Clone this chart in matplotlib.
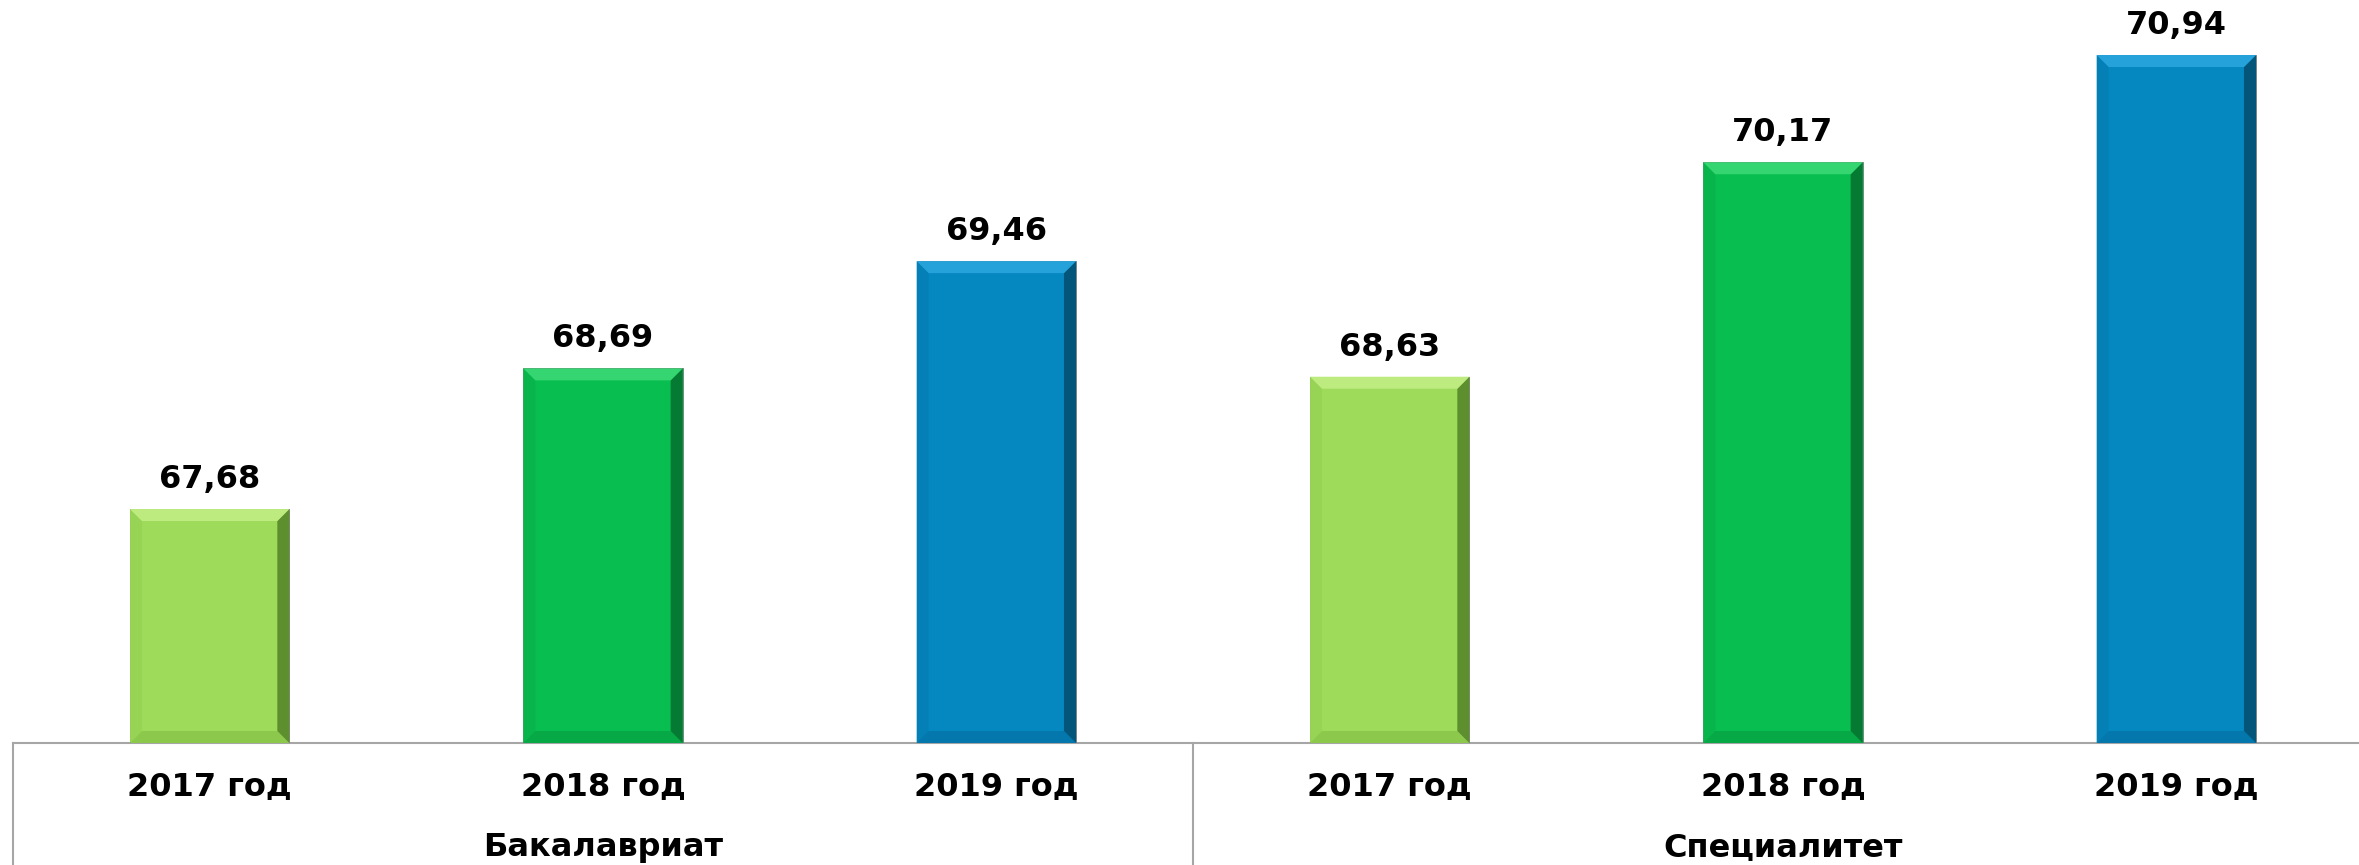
import matplotlib
matplotlib.use("Agg")
import matplotlib.pyplot as plt
from matplotlib.patches import Polygon
import matplotlib.transforms as mtrans

years = ["2017 год", "2018 год", "2019 год", "2017 год", "2018 год", "2019 год"]
groups = ["Бакалавриат", "Специалитет"]
values = [67.68, 68.69, 69.46, 68.63, 70.17, 70.94]
labels = ["67,68", "68,69", "69,46", "68,63", "70,17", "70,94"]

base_colors = ["#9FDB5A", "#08BE50", "#0587BF", "#9FDB5A", "#08BE50", "#0587BF"]
light_colors = ["#BDEB80", "#35D572", "#25A2D9", "#BDEB80", "#35D572", "#25A2D9"]
dark_colors = ["#5E8F2E", "#057A33", "#03557A", "#5E8F2E", "#057A33", "#03557A"]
mid_dark = ["#8CC84C", "#07A846", "#0478AC", "#8CC84C", "#07A846", "#0478AC"]
left_colors = ["#97D355", "#08B44C", "#0580B6", "#97D355", "#08B44C", "#0580B6"]

FONT = ["DejaVu Sans"]
FS = 23

W, H = 2359, 865
fig = plt.figure(figsize=(W / 100, H / 100), dpi=100)
ax = fig.add_axes([13 / W, (H - 743) / H, 2360 / W, 743 / H])
ymin, ymax = 66.0, 71.335
ax.set_xlim(-0.5, 5.5)
ax.set_ylim(ymin, ymax)
ax.axis("off")

x = list(range(len(values)))
bw = 0.405
bars = ax.bar(x, [v - ymin for v in values], bottom=ymin, width=bw,
              color=base_colors, edgecolor="#7A7A7A", linewidth=0.6, zorder=2)

px_x = (5.5 + 0.5) / 2360
px_y = (ymax - ymin) / 743
bx, by = 12 * px_x, 12 * px_y
for i, b in enumerate(bars):
    x0 = b.get_x(); x1 = x0 + b.get_width()
    y0 = ymin; y1 = values[i]
    top = Polygon([(x0, y1), (x1, y1), (x1 - bx, y1 - by), (x0 + bx, y1 - by)],
                  closed=True, facecolor=light_colors[i], edgecolor="none", zorder=3)
    right = Polygon([(x1, y1), (x1, y0), (x1 - bx, y0 + by), (x1 - bx, y1 - by)],
                    closed=True, facecolor=dark_colors[i], edgecolor="none", zorder=3)
    bottom = Polygon([(x0, y0), (x1, y0), (x1 - bx, y0 + by), (x0 + bx, y0 + by)],
                     closed=True, facecolor=mid_dark[i], edgecolor="none", zorder=3)
    left = Polygon([(x0, y1), (x0, y0), (x0 + bx, y0 + by), (x0 + bx, y1 - by)],
                   closed=True, facecolor=left_colors[i], edgecolor="none", zorder=3)
    for p in (left, bottom, right, top):
        ax.add_patch(p)
    ax.text(b.get_x() + b.get_width() / 2, values[i] + 14 * px_y, labels[i],
            ha="center", va="bottom", fontsize=FS, fontweight="bold",
            family=FONT, color="black", zorder=4)

tr = mtrans.blended_transform_factory(ax.transData, ax.transAxes)
line_kw = dict(color="#A6A6A6", linewidth=1.5, clip_on=False, zorder=1)
ax.plot([-0.5, 5.5], [ymin, ymin], **line_kw)
ax.plot([-0.5, -0.5], [0, -0.2], transform=tr, **line_kw)
ax.plot([2.5, 2.5], [0, -0.2], transform=tr, **line_kw)

for i, lab in enumerate(years):
    ax.text(i, -0.059, lab, transform=tr, ha="center", va="center",
            fontsize=FS, fontweight="bold", family=FONT)
for g, lab in enumerate(groups):
    ax.text(1 + 3 * g, -0.14, lab, transform=tr, ha="center", va="center",
            fontsize=FS, fontweight="bold", family=FONT)

fig.savefig("out.png", dpi=100)
